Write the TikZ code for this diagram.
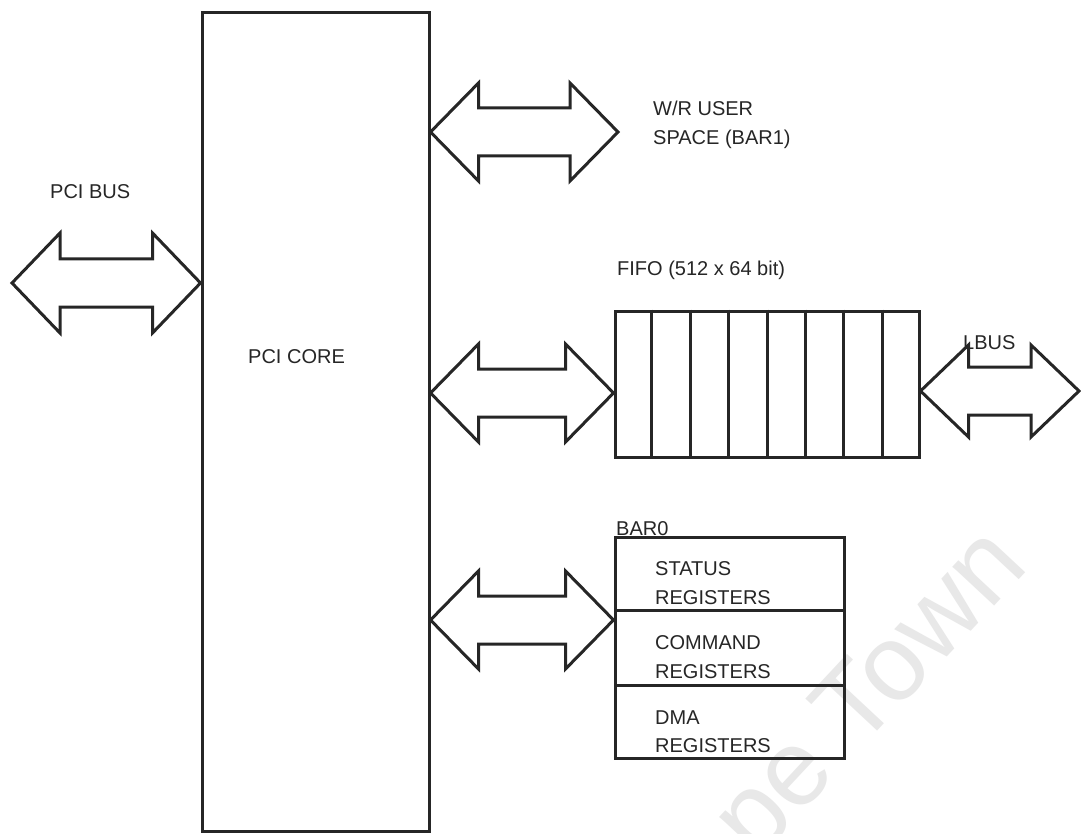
\documentclass[tikz,border=0pt]{standalone}
\usepackage{fontspec}
\setmainfont{Liberation Sans}
\usetikzlibrary{calc}
\tikzset{
  blk/.style={draw=black!85, line width=3pt, rectangle, inner sep=0pt},
  busline/.style={draw=black!85, line width=3pt, line join=miter},
  lbl/.style={inner sep=0pt, anchor=base west, font=\fontsize{20}{24}\selectfont, text=black!85},
  wmark/.style={inner sep=0pt, text=black!9, font=\fontsize{108}{112}\selectfont},
}
% #1 left tip, #2 right tip, #3 half height of the heads
\newcommand\busarrow[3]{%
  \draw[busline] (#1) -- ($(#1)+(48,-#3)$) -- ($(#1)+(48,-24)$) -- ($(#2)+(-48,-24)$)
    -- ($(#2)+(-48,-#3)$) -- (#2) -- ($(#2)+(-48,#3)$) -- ($(#2)+(-48,24)$)
    -- ($(#1)+(48,24)$) -- ($(#1)+(48,#3)$) -- cycle;}
\begin{document}
\begin{tikzpicture}[x=1pt,y=-1pt]
\useasboundingbox[fill=white] (0,0) rectangle (1081,834);
% watermark
\begin{scope}
\clip (0,0) rectangle (1081,834);
\node[wmark, rotate=47, anchor=base east] (wm) at (1031,567) {Cape Town};
\end{scope}
% PCI core
\node[blk, minimum width=227pt, minimum height=818pt] (core) at (315.5,422) {};
\node[lbl] (corelbl) at (248,363) {PCI CORE};
% FIFO
\node[blk, minimum width=304pt, minimum height=146pt] (fifo) at (767,384) {};
\foreach \k in {1,...,7}{
  \draw[busline] ($(fifo.north west)!\k/8!(fifo.north east)$) -- ($(fifo.south west)!\k/8!(fifo.south east)$);
}
\node[lbl] (fifolbl) at (617,276) {FIFO (512 x 64 bit)};
% BAR0 registers
\node[blk, minimum width=229pt, minimum height=73pt] (status) at (729.5,573.5) {};
\node[blk, minimum width=229pt, minimum height=75pt] (command) at (729.5,647.5) {};
\node[blk, minimum width=229pt, minimum height=73pt] (dma) at (729.5,721.5) {};
\node[lbl] (bar0lbl) at (616,535) {BAR0};
\node[lbl] (st1) at (655,575) {STATUS};
\node[lbl] (st2) at (655,604) {REGISTERS};
\node[lbl] (cm1) at (655,649) {COMMAND};
\node[lbl] (cm2) at (655,678) {REGISTERS};
\node[lbl] (dm1) at (655,724) {DMA};
\node[lbl] (dm2) at (655,752) {REGISTERS};
% other labels
\node[lbl] (pcibuslbl) at (50,199) {PCI BUS};
\node[lbl] (wr1) at (653,116) {W/R USER};
\node[lbl] (wr2) at (653,145) {SPACE (BAR1)};
\node[lbl] (lbuslbl) at (963,349) {LBUS};
% bus arrows
\coordinate (ypci) at (0,283);
\coordinate (ywr) at (0,132);
\coordinate (yfifo) at (0,393);
\coordinate (ybar) at (0,620);
\coordinate (ylbus) at (0,391);
\coordinate (pcil) at (12,283);
\coordinate (pcir) at (core.west |- ypci);
\coordinate (wrl) at (core.east |- ywr);
\coordinate (wrr) at (618,132);
\coordinate (fifol) at (core.east |- yfifo);
\coordinate (fifor) at (fifo.west |- yfifo);
\coordinate (barl) at (core.east |- ybar);
\coordinate (barr) at (command.west |- ybar);
\coordinate (lbusl) at (fifo.east |- ylbus);
\coordinate (lbusr) at (1079,391);
\busarrow{pcil}{pcir}{50}
\busarrow{wrl}{wrr}{49}
\busarrow{fifol}{fifor}{49}
\busarrow{barl}{barr}{49}
\busarrow{lbusl}{lbusr}{46}
\end{tikzpicture}
\end{document}
